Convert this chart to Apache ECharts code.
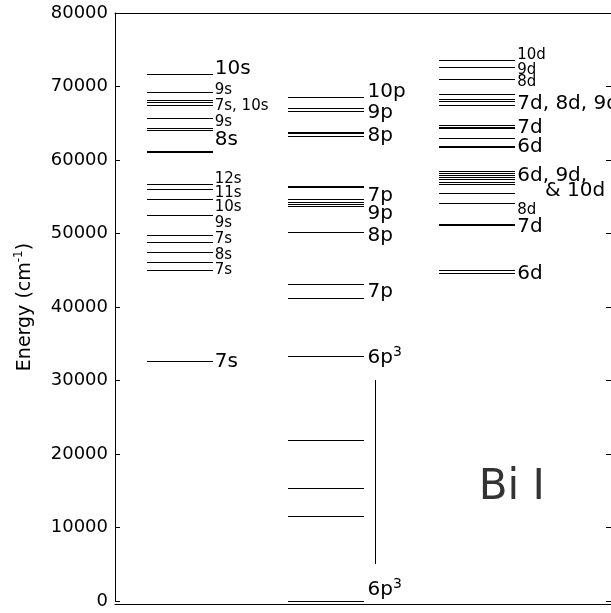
<!DOCTYPE html>
<html lang="en">
<head>
  <meta charset="UTF-8">
  <title>Bi I levels</title>
  <style>
    html, body { margin: 0; padding: 0; background: #fff; }
  </style>
</head>
<body>
  <div id="chart" style="width: 611px; height: 613px;"></div>
  <script src="https://cdn.jsdelivr.net/npm/echarts@6/dist/echarts.min.js"></script>
  <script>
    // energy levels (cm-1)
    const sLevels = [71660, 69210, 68160, 67890, 67440, 65580, 64240, 64040, 61220, 60990,
      56690, 56010, 54560, 52420, 49660, 48750, 47390, 46030, 44900, 32650];
    const pLevels = [68480, 66940, 66570, 63770, 63540, 63220, 56460, 56230, 54560, 54240,
      53920, 53650, 50070, 43000, 41090, 33330, 21770, 15370, 11430, 0];
    const dLevels = [73470, 72520, 71020, 68940, 68260, 67930, 67440, 64630, 64390, 64220,
      62860, 61900, 61730, 58500, 58190, 57860, 57590, 57280, 56970, 56600, 55470, 54110,
      51250, 51060, 44900, 44590];

    // labels: text and the energy they sit at
    const sLabelText = ['10s', '9s', '7s, 10s', '9s', '8s', '12s', '11s', '10s', '9s', '7s', '8s', '7s', '7s'];
    const sLabelAt = [72380, 69520, 67390, 65170, 62720, 57410, 55510, 53540, 51430, 49250, 47070, 45030, 32520];
    const pLabelText = ['10p', '9p', '8p', '7p', '9p', '8p', '7p', '6p³', '6p³'];
    const pLabelAt = [69250, 66390, 63270, 55100, 52650, 49660, 42040, 33060, 1500];
    const dLabelText = ['10d', '9d', '8d', '7d, 8d, 9d', '7d', '6d', '6d, 9d,', '& 10d', '8d', '7d', '6d'];
    const dLabelAt = [74290, 72240, 70610, 67620, 64350, 61770, 57820, 55780, 53200, 50880, 44490];

    // vertical bar beside the 6p3 levels
    const bracket = [5030, 30070];

    // layout (fractions of the plot width)
    const sCol = [0.0644, 0.197, 0.201];
    const pCol = [0.348, 0.503, 0.509];
    const dCol = [0.654, 0.807, 0.811];
    const bracketX = 0.525;
    const sBig = [1, 0, 0, 0, 1, 0, 0, 0, 0, 0, 0, 0, 1];
    const pBig = [1, 1, 1, 1, 1, 1, 1, 1, 1];
    const dBig = [0, 0, 0, 1, 1, 1, 1, 1, 0, 1, 1];
    const dShift = [0, 0, 0, 0, 0, 0, 0, 0.056, 0, 0, 0];

    const FONT = 'DejaVu Sans';

    function levelSeries(levels, col) {
      return {
        type: 'custom',
        data: levels.map(v => [v]),
        renderItem: function (params, api) {
          const a = api.coord([col[0], api.value(0)]);
          const b = api.coord([col[1], api.value(0)]);
          const y = Math.round(a[1] - 0.5) + 0.5;
          return {
            type: 'line',
            shape: { x1: Math.round(a[0]), y1: y, x2: Math.round(b[0]), y2: y },
            style: { stroke: '#000', lineWidth: 1 }
          };
        },
        silent: true
      };
    }

    function labelSeries(texts, at, big, col, shift) {
      return {
        type: 'custom',
        data: at.map((v, i) => [v, i]),
        renderItem: function (params, api) {
          const i = api.value(1);
          const x = col[2] + (shift ? shift[i] : 0);
          const p = api.coord([x, api.value(0)]);
          let t = texts[i];
          const size = big[i] ? 20 : 15;
          if (t.indexOf('³') >= 0) t = '{b|' + t.replace('³', '') + '}{sup|3}';
          else t = '{b|' + t + '}';
          return {
            type: 'text',
            x: p[0],
            y: p[1],
            style: {
              text: t,
              fill: '#000',
              align: 'left',
              verticalAlign: 'middle',
              rich: {
                b: { fontFamily: FONT, fontSize: size, lineHeight: size + 6, fill: '#000' },
                sup: { fontFamily: FONT, fontSize: 14, verticalAlign: 'top', fill: '#000' }
              }
            }
          };
        },
        silent: true
      };
    }

    const chart = echarts.init(document.getElementById('chart'));
    const option = {
      animation: false,
      grid: { left: 115, top: 13, width: 496, height: 588, outerBoundsMode: 'none', containLabel: false },
      xAxis: [
        {
          type: 'value', min: 0, max: 1, position: 'bottom', offset: 3,
          axisLine: { show: true, onZero: false, lineStyle: { color: '#000', width: 1 } },
          axisTick: { show: false }, axisLabel: { show: false }, splitLine: { show: false }
        },
        {
          type: 'value', min: 0, max: 1, position: 'top',
          axisLine: { show: true, onZero: false, lineStyle: { color: '#000', width: 1 } },
          axisTick: { show: false }, axisLabel: { show: false }, splitLine: { show: false }
        }
      ],
      yAxis: [
        {
          type: 'value', min: 0, max: 80000, interval: 10000, position: 'left',
          axisLine: { show: true, onZero: false, lineStyle: { color: '#000', width: 1 } },
          axisTick: { show: true, inside: true, length: 5, lineStyle: { color: '#000' } },
          axisLabel: {
            color: '#000', fontFamily: FONT, fontSize: 18, margin: 7,
            formatter: v => String(v)
          },
          splitLine: { show: false },
          name: '{a|Energy (cm}{s|-1}{a|)}',
          nameLocation: 'middle',
          nameRotate: 90,
          nameGap: 78,
          nameTextStyle: {
            rich: {
              a: { fontFamily: FONT, fontSize: 19, color: '#000', lineHeight: 24 },
              s: { fontFamily: FONT, fontSize: 12, color: '#000', verticalAlign: 'top' }
            }
          }
        },
        {
          type: 'value', min: 0, max: 80000, interval: 10000, position: 'right',
          axisLine: { show: false, onZero: false },
          axisTick: { show: true, inside: true, length: 5, lineStyle: { color: '#000' } },
          axisLabel: { show: false },
          splitLine: { show: false }
        }
      ],
      series: [
        levelSeries(sLevels, sCol),
        levelSeries(pLevels, pCol),
        levelSeries(dLevels, dCol),
        labelSeries(sLabelText, sLabelAt, sBig, sCol),
        labelSeries(pLabelText, pLabelAt, pBig, pCol),
        labelSeries(dLabelText, dLabelAt, dBig, dCol, dShift),
        {
          type: 'custom',
          data: [bracket],
          renderItem: function (params, api) {
            const a = api.coord([bracketX, api.value(0)]);
            const b = api.coord([bracketX, api.value(1)]);
            const x = Math.round(a[0] - 0.5) + 0.5;
            return {
              type: 'line',
              shape: { x1: x, y1: a[1], x2: x, y2: b[1] },
              style: { stroke: '#000', lineWidth: 1 }
            };
          },
          silent: true
        },
        {
          type: 'scatter',
          data: [[0.8, 15370]],
          symbolSize: 0,
          label: {
            show: true, position: 'inside', formatter: '{t|Bi I}',
            rich: { t: { fontFamily: FONT, fontSize: 42, color: '#000' } }
          },
          silent: true
        }
      ]
    };
    chart.setOption(option);
  </script>
</body>
</html>
